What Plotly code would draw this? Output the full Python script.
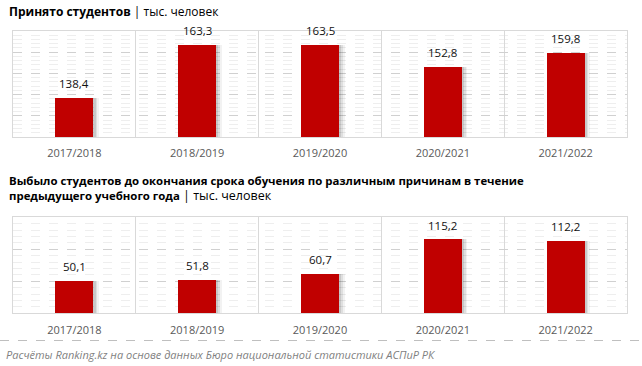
import plotly.graph_objects as go
from plotly.subplots import make_subplots

years = ["2017/2018", "2018/2019", "2019/2020", "2020/2021", "2021/2022"]
admitted = [138.4, 163.3, 163.5, 152.8, 159.8]
dropped = [50.1, 51.8, 60.7, 115.2, 112.2]

title_top = "<b>Принято студентов</b> | тыс. человек"
title_bottom = ("<b>Выбыло студентов до окончания срока обучения по различным причинам в течение</b><br>"
                "<b>предыдущего учебного года</b><span style=\"font-size:12.5px\"> | тыс. человек</span>")
source = "Расчёты Ranking.kz на основе данных Бюро национальной статистики АСПиР РК"

FONT = "Open Sans"
BAR = "#C00000"
W = 642
H = 366

fig = make_subplots(rows=2, cols=1)

BW = 0.31
for row, vals in ((1, admitted), (2, dropped)):
    for off, alpha in ((0.045, 0.05), (0.03, 0.08), (0.018, 0.10)):
        fig.add_trace(go.Bar(x=years, y=vals, width=BW, offset=-BW / 2 + off,
                             marker=dict(color=f"rgba(0,0,0,{alpha})", line=dict(width=0)),
                             hoverinfo="skip", showlegend=False), row=row, col=1)
    fig.add_trace(go.Bar(x=years, y=vals, width=BW, offset=-BW / 2,
                         marker=dict(color=BAR, line=dict(width=0)),
                         hoverinfo="skip", showlegend=False), row=row, col=1)

annotations = []
for xr, yr, vals in (("x", "y", admitted), ("x2", "y2", dropped)):
    for c, v in zip(years, vals):
        annotations.append(dict(x=c, y=v, xref=xr, yref=yr, text=f"{v:.1f}".replace(".", ","),
                                showarrow=False, yanchor="bottom", yshift=5,
                                font=dict(family=FONT, size=11.5, color="#111111")))

annotations.append(dict(x=7 / W, y=1 - 11 / H, xref="paper", yref="paper", xanchor="left", yanchor="middle",
                        text=title_top, showarrow=False, align="left",
                        font=dict(family=FONT, size=12, color="#000000")))
annotations.append(dict(x=7 / W, y=1 - 188 / H, xref="paper", yref="paper", xanchor="left", yanchor="middle",
                        text=title_bottom, showarrow=False, align="left",
                        font=dict(family=FONT, size=11.4, color="#000000")))
annotations.append(dict(x=4 / W, y=1 - 354 / H, xref="paper", yref="paper", xanchor="left", yanchor="middle",
                        text=f"<i>{source}</i>", showarrow=False, align="left",
                        font=dict(family=FONT, size=11, color="#7f7f7f")))

fig.update_layout(
    width=W, height=H, margin=dict(l=0, r=0, t=0, b=0),
    paper_bgcolor="white", plot_bgcolor="white",
    barmode="overlay", bargap=0, showlegend=False,
    annotations=annotations,
    shapes=[dict(type="line", xref="paper", yref="paper", x0=0, x1=1, y0=1 - 340.5 / H, y1=1 - 340.5 / H,
                 line=dict(color="#bfbfbf", width=1, dash="dash"))],
)

xcommon = dict(type="category", tickson="boundaries", showgrid=True, gridcolor="#d9d9d9", gridwidth=1,
               showline=True, mirror=True, linecolor="#d9d9d9", linewidth=1, ticks="",
               ticklabelstandoff=6,
               tickfont=dict(family=FONT, size=11, color="#595959"), range=[-0.5, 4.5])
fig.update_xaxes(**xcommon)
fig.update_xaxes(domain=[13 / W, 627 / W], row=1, col=1)
fig.update_xaxes(domain=[13 / W, 627 / W], row=2, col=1)

ycommon = dict(showticklabels=False, showline=True, mirror=True, linecolor="#d9d9d9", linewidth=1,
               showgrid=True, gridcolor="#d0d0d0", griddash="dash", gridwidth=1, zeroline=False, ticks="")
fig.update_yaxes(**ycommon)
fig.update_yaxes(range=[120, 170], dtick=10, tick0=120,
                 minor=dict(dtick=2, tick0=120, showgrid=True, gridcolor="#eeeeee", gridwidth=1),
                 domain=[1 - 137 / H, 1 - 31 / H], row=1, col=1)
fig.update_yaxes(range=[0, 150], dtick=50, tick0=0,
                 minor=dict(dtick=10, tick0=0, showgrid=True, gridcolor="#eeeeee", gridwidth=1),
                 domain=[1 - 313.3 / H, 1 - 217.3 / H], row=2, col=1)

fig.write_html("out.html", config={"displayModeBar": False},
               post_script="document.body.style.margin='0';document.body.style.padding='0';")
